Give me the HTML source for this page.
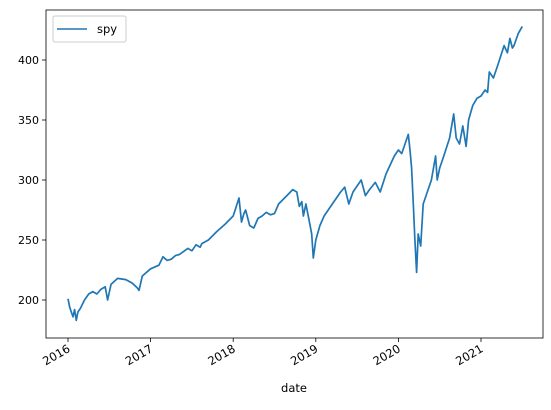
<!DOCTYPE html>
<html><head><meta charset="utf-8"><style>
body{margin:0;background:#fff;}
svg text{font-family:"DejaVu Sans","Liberation Sans",sans-serif;font-size:11px;fill:#000}
</style></head><body>
<svg id="chart" width="551" height="405" xmlns="http://www.w3.org/2000/svg">
<rect x="0" y="0" width="551" height="405" fill="#fff"/>
<g id="ticks"></g>
<path id="line" fill="none" stroke="#1f77b4" stroke-width="1.7" stroke-linejoin="round"/>
<rect x="46" y="10" width="497" height="328" fill="none" stroke="#000" stroke-width="0.8"/>
<g>
<rect x="53" y="16" width="73" height="26" rx="2" fill="#fff" stroke="#ccc" stroke-width="1" fill-opacity="0.8"/>
<line x1="57" y1="29" x2="87" y2="29" stroke="#1f77b4" stroke-width="1.5"/>
<text x="97" y="33" style="font-size:11.5px">spy</text>
</g>
<text x="294" y="392" text-anchor="middle" style="font-size:11.5px">date</text>
</svg>
<script>
const dates=[2016.0,2016.02,2016.04,2016.06,2016.08,2016.1,2016.12,2016.15,2016.2,2016.25,2016.3,2016.35,2016.4,2016.45,2016.48,2016.52,2016.6,2016.7,2016.78,2016.84,2016.86,2016.9,2017.0,2017.1,2017.15,2017.2,2017.25,2017.3,2017.35,2017.45,2017.5,2017.55,2017.6,2017.62,2017.7,2017.8,2017.9,2018.0,2018.07,2018.1,2018.13,2018.15,2018.2,2018.25,2018.3,2018.35,2018.4,2018.45,2018.5,2018.55,2018.65,2018.72,2018.77,2018.8,2018.83,2018.85,2018.88,2018.92,2018.95,2018.97,2019.0,2019.05,2019.1,2019.2,2019.3,2019.35,2019.4,2019.45,2019.55,2019.6,2019.65,2019.72,2019.78,2019.85,2019.95,2020.0,2020.04,2020.08,2020.12,2020.14,2020.16,2020.18,2020.2,2020.22,2020.24,2020.27,2020.3,2020.35,2020.4,2020.45,2020.47,2020.5,2020.55,2020.62,2020.67,2020.7,2020.74,2020.78,2020.82,2020.85,2020.9,2020.95,2021.0,2021.05,2021.08,2021.1,2021.15,2021.2,2021.28,2021.32,2021.35,2021.38,2021.4,2021.45,2021.5];
const values=[201,194,190,186,192,183,190,193,200,205,207,205,209,211,200,213,218,217,214,210,208,220,226,229,236,233,234,237,238,243,241,246,244,247,250,257,263,270,285,265,272,275,262,260,268,270,273,271,272,280,287,292,290,278,282,270,280,266,255,235,250,262,270,280,290,294,280,290,300,287,292,298,290,305,320,325,322,330,338,325,310,280,250,223,255,245,280,290,300,320,300,310,320,335,355,335,330,345,328,350,362,368,370,375,373,390,385,395,412,406,418,410,412,422,428];
const yTicks=[200,250,300,350,400];
const xTicks=[2016,2017,2018,2019,2020,2021];
const X=t=>68+(t-2016)*82.6;
const Y=v=>300-(v-200)*1.2;
let d='';
for(let i=0;i<dates.length;i++){d+=(i?'L':'M')+X(dates[i]).toFixed(1)+','+Y(values[i]).toFixed(1);}
document.getElementById('line').setAttribute('d',d);
const g=document.getElementById('ticks');
const NS='http://www.w3.org/2000/svg';
yTicks.forEach(v=>{
 const l=document.createElementNS(NS,'line');
 l.setAttribute('x1',42);l.setAttribute('x2',46);l.setAttribute('y1',Y(v));l.setAttribute('y2',Y(v));l.setAttribute('stroke','#000');l.setAttribute('stroke-width','0.8');
 
 
 g.appendChild(l);
 const t=document.createElementNS(NS,'text');
 t.setAttribute('x',39);t.setAttribute('y',Y(v)+4);t.setAttribute('text-anchor','end');t.textContent=v;
 
 
 g.appendChild(t);
});
xTicks.forEach(v=>{
 const x=X(v);
 const l=document.createElementNS(NS,'line');
 l.setAttribute('x1',x);l.setAttribute('x2',x);l.setAttribute('y1',338);l.setAttribute('y2',342);l.setAttribute('stroke','#000');l.setAttribute('stroke-width','0.8');
 
 
 g.appendChild(l);
 const t=document.createElementNS(NS,'text');
 t.setAttribute('text-anchor','end');
 t.setAttribute('transform','translate('+(x+3)+',351) rotate(-30)');
 t.setAttribute('style','font-size:11.5px');
 t.textContent=v;
 
 
 g.appendChild(t);
});
</script>
</body></html>
